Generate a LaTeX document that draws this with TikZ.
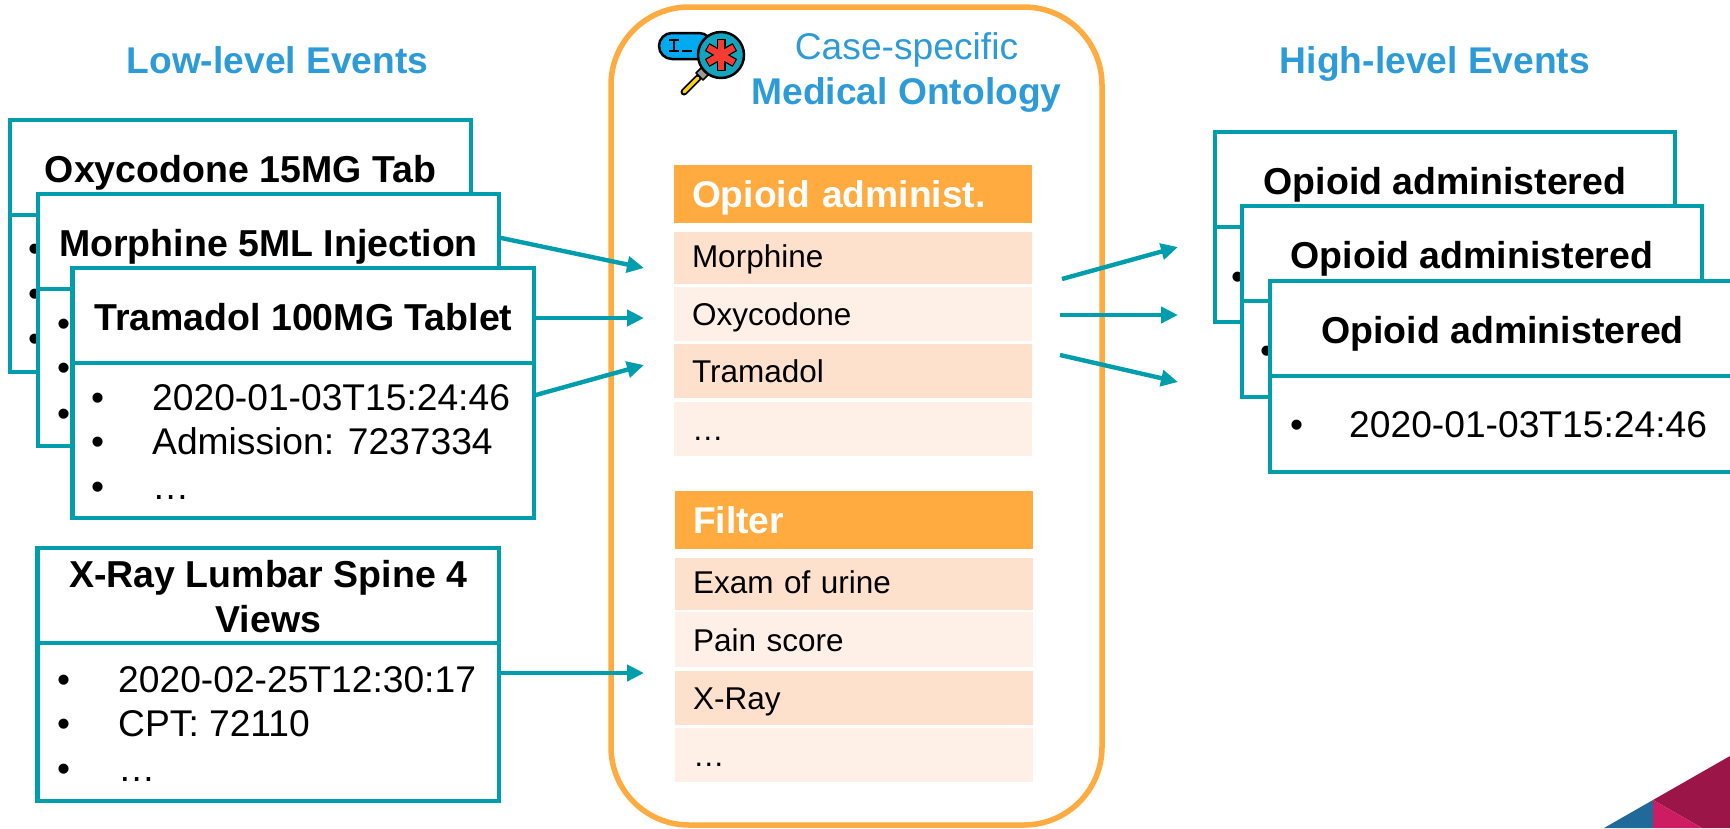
\documentclass[tikz,border=0pt]{standalone}
\usepackage{fontspec}
\setmainfont{Liberation Sans}
\usetikzlibrary{arrows.meta}
\definecolor{teal1}{HTML}{009EAD}
\definecolor{orange1}{HTML}{FFAB40}
\definecolor{rowA}{HTML}{FDE1CC}
\definecolor{rowB}{HTML}{FEF0E7}
\definecolor{blue1}{HTML}{2E9BD9}
\definecolor{cornerBlue}{HTML}{1F6A99}
\definecolor{cornerMaroon}{HTML}{9C1548}
\definecolor{cornerPink}{HTML}{CE1C62}
\definecolor{iconBlue}{HTML}{00AAF0}
\definecolor{iconTeal}{HTML}{14A5BE}
\definecolor{iconRed}{HTML}{F53C32}
\definecolor{iconYellow}{HTML}{FFD600}
\newcommand{\bodyfont}{\fontsize{37.2}{45}\selectfont}
\newcommand{\headfont}{\fontsize{37.5}{45}\selectfont}
\newcommand{\rowfont}{\fontsize{31.5}{38}\selectfont}
\tikzset{
  evbox/.style={draw=teal1,line width=4.4pt,fill=white,rectangle,inner sep=0pt,outer sep=0pt,anchor=north west,align=center,font=\headfont\bfseries,text=black,text height=30pt,text depth=1pt},
  evtext/.style={anchor=base west,inner sep=0pt,font=\bodyfont,text=black},
  title/.style={inner sep=0pt,font=\bodyfont,text=blue1,anchor=base},
  onthead/.style={fill=orange1,rectangle,inner ysep=0pt,inner xsep=18pt,outer sep=0pt,anchor=north west,minimum width=358pt,text width=322pt,minimum height=58pt,align=left,font=\bodyfont\bfseries,text=white,text height=30pt,text depth=4pt},
  ontrow/.style={rectangle,inner ysep=0pt,inner xsep=18pt,outer sep=0pt,anchor=north west,minimum width=358pt,text width=322pt,align=left,font=\rowfont,text=black,text height=26pt,text depth=2.2pt},
  firstrow/.style={text height=24pt,text depth=4.6pt},
  flow/.style={draw=teal1,line width=4.4pt,-{Triangle[length=17pt,width=16pt]}},
}
% #1 name, #2 x, #3 y top, #4 width, #5 head height, #6 body height, #7 title
\newcommand{\evcard}[7]{%
  \node[evbox,minimum width=#4pt,minimum height=#6pt] (#1Body) at (#2,#3+#5) {};
  \node[evbox,minimum width=#4pt,minimum height=#5pt] (#1Head) at (#2,#3) {#7};
}
\begin{document}
\begin{tikzpicture}[x=1pt,y=-1pt]
\useasboundingbox (0,0) rectangle (1730,828);
\clip (0,0) rectangle (1730,828);
% corner decoration
\fill[cornerBlue] (1604,828) -- (1653,800) -- (1653,828) -- cycle;
\fill[cornerMaroon] (1653,800) -- (1730,756) -- (1730,828) -- (1702,828) -- cycle;
\fill[cornerPink] (1653,800) -- (1702,828) -- (1653,828) -- cycle;
% titles
\node[title] (lowTitle) at (277.5,73) {\bfseries Low-level Events};
\node[title] (highTitle) at (1435,73) {\bfseries High-level Events};
% ontology container
\node[draw=orange1,line width=5.5pt,rounded corners=78pt,rectangle,outer sep=0pt,minimum width=491pt,minimum height=818pt,anchor=north west,inner sep=0pt] (ontology) at (611,7) {};
\node[title] (caseTitle) at (906.5,59) {Case-specific};
\node[title] (medTitle) at (906.5,104) {\bfseries Medical Ontology};
% icon
\begin{scope}[line join=round]
\draw[black,line width=2.5pt,fill=iconBlue,rounded corners=13pt] (659,33) rectangle (712,59);
\draw[black,line width=2pt] (669,40) -- (679,40) (669,51) -- (679,51) (674,40) -- (674,51) (682,51) -- (692,51);
\draw[black,line width=7pt,line cap=round] (684,92) -- (698,78);
\draw[iconYellow,line width=3.5pt,line cap=round] (684,92) -- (698,78);
\draw[black,line width=1.5pt,fill=black!40] (696,73) -- (703,80) -- (710,73) -- (703,66) -- cycle;
\draw[black,line width=2.5pt,fill=iconTeal] (721,55) circle[radius=23];
\foreach \a in {0,60,120}{
  \draw[black,line width=9pt,rotate around={\a+90:(721,55)}] (705,55) -- (737,55);
}
\foreach \a in {0,60,120}{
  \draw[iconRed,line width=6.5pt,rotate around={\a+90:(721,55)}] (706,55) -- (736,55);
}
\end{scope}
% low-level cards
\evcard{oxy}{10}{120}{461}{95}{157}{Oxycodone 15MG Tab}
\foreach \yy in {261,306,351}{\node[evtext] at (28,\yy) {•};}
\evcard{morph}{38}{194}{461}{95}{157}{Morphine 5ML Injection}
\foreach \yy in {336,380,426}{\node[evtext] at (57,\yy) {•};}
\evcard{tram}{72.5}{268}{461.5}{95}{155}{Tramadol 100MG Tablet}
\node[evtext] (b1) at (91,410) {•};
\node[evtext] (t1) at (152,410) {2020-01-03T15:24:46};
\node[evtext] (b2) at (91,454) {•};
\node[evtext] (t2) at (152,454) {Admission: 7237334};
\node[evtext] (b3) at (91,499) {•};
\node[evtext] (t3) at (152,499) {…};
\evcard{xray}{37.5}{548}{461.5}{95}{158}{}
\node[inner sep=0pt,align=center,font=\headfont\bfseries,text=black] (xrayTitle) at ([yshift=-1.5pt]xrayHead.center) {X-Ray Lumbar Spine 4\\Views};
\node[evtext] (b4) at (57,692) {•};
\node[evtext] (t4) at (118,692) {2020-02-25T12:30:17};
\node[evtext] (b5) at (57,736) {•};
\node[evtext] (t5) at (118,736) {CPT: 72110};
\node[evtext] (b6) at (57,781) {•};
\node[evtext] (t6) at (118,781) {…};
% ontology tables
\node[onthead] (opioidHead) at (674,165) {Opioid administ.};
\node[ontrow,firstrow,fill=rowA,minimum height=52pt] (rMorph) at (674,232) {Morphine};
\node[ontrow,fill=rowB,minimum height=54pt] (rOxy) at (674,287) {Oxycodone};
\node[ontrow,fill=rowA,minimum height=54pt] (rTram) at (674,344) {Tramadol};
\node[ontrow,fill=rowB,minimum height=54pt] (rDots) at (674,402) {…};
\node[onthead] (filterHead) at (675,491) {Filter};
\node[ontrow,firstrow,fill=rowA,minimum height=52pt] (rExam) at (675,558) {Exam of urine};
\node[ontrow,fill=rowB,minimum height=55pt] (rPain) at (675,612) {Pain score};
\node[ontrow,fill=rowA,minimum height=54pt] (rXray) at (675,671) {X-Ray};
\node[ontrow,fill=rowB,minimum height=54pt] (rDots2) at (675,728) {…};
% high-level cards
\evcard{hiA}{1215}{132}{460}{95}{95}{Opioid administered}
\node[evtext] at (1231,289) {•};
\evcard{hiB}{1242}{206}{460}{95}{96}{Opioid administered}
\node[evtext] at (1260,363) {•};
\evcard{hiC}{1270}{281}{465}{95}{96}{Opioid administered}
\node[evtext] (b7) at (1290,437) {•};
\node[evtext] (t7) at (1349,437) {2020-01-03T15:24:46};
% connectors
\coordinate (inA) at (644,268);
\coordinate (inB) at (644,318);
\coordinate (inC) at (644,365);
\coordinate (inD) at (644,673);
\coordinate (outA1) at (1062,279);
\coordinate (outA2) at (1178,247);
\coordinate (outB1) at (1060,315);
\coordinate (outB2) at (1178,315);
\coordinate (outC1) at (1060,355);
\coordinate (outC2) at (1178,382);
\draw[flow] ([yshift=4pt]morphHead.east) -- (inA);
\draw[flow] ([yshift=-2.5pt]tramHead.east) -- (inB);
\draw[flow] ([yshift=45pt]tramBody.east) -- (inC);
\draw[flow] ([yshift=49pt]xrayBody.east) -- (inD);
\draw[flow] (outA1) -- (outA2);
\draw[flow] (outB1) -- (outB2);
\draw[flow] (outC1) -- (outC2);
\end{tikzpicture}
\end{document}
